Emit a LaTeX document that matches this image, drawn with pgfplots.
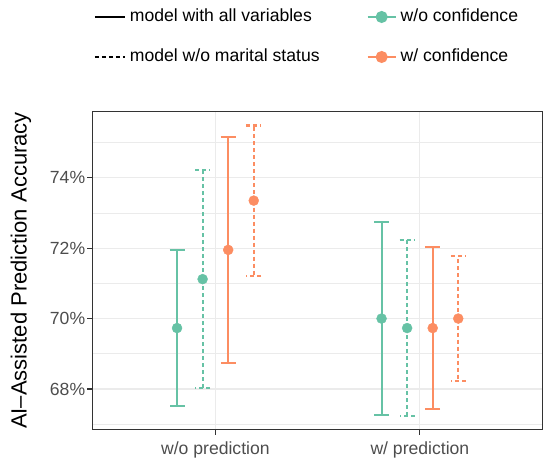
\documentclass[border=0pt]{standalone}
\usepackage{fontspec}
\setmainfont{Liberation Sans}
\usepackage{pgfplots}
\pgfplotsset{compat=1.18}
\definecolor{cgreen}{HTML}{66C2A5}
\definecolor{corange}{HTML}{FC8D62}
\definecolor{gridc}{HTML}{EBEBEB}
\definecolor{framec}{HTML}{333333}
\definecolor{tickc}{HTML}{4D4D4D}
\pgfplotsset{
  mylinelegend/.style={legend image code/.code={\draw[##1] (0bp,0bp) -- (30bp,0bp);}},
  mymarklegend/.style={legend image code/.code={\draw[mark repeat=2,mark phase=2,##1] plot coordinates {(0bp,0bp) (14bp,0bp) (28bp,0bp)};}},
}
\begin{document}
\begin{tikzpicture}[x=1bp,y=1bp]
\path[use as bounding box] (0,0) rectangle (548,462);
\begin{axis}[
  at={(92.7bp,32.7bp)}, anchor=south west,
  scale only axis, width=449.9bp, height=317.6bp,
  xmin=0.4, xmax=2.6, ymin=66.855, ymax=75.875,
  xtick={1,2}, xticklabels={w/o prediction, w/ prediction},
  ytick={68,70,72,74}, yticklabels={68\%,70\%,72\%,74\%},
  minor ytick={67,69,71,73,75},
  grid=both,
  major grid style={gridc, line width=1.1bp},
  minor grid style={gridc, line width=0.6bp},
  axis line style={framec, line width=1.1bp},
  tick style={framec, line width=1.1bp},
  tick align=outside, major tick length=5.5bp, minor tick length=0pt,
  xtick pos=bottom, ytick pos=left,
  ticklabel style={font=\fontsize{17.6bp}{20bp}\selectfont, text=tickc},
  xticklabel style={yshift=-3bp},
  yticklabel style={xshift=1.5bp},
  ylabel={AI–Assisted Prediction Accuracy},
  ylabel style={font=\fontsize{22bp}{26bp}\selectfont, at={(axis description cs:-0.1594,0.5)}, anchor=center},
  legend columns=2,
  legend cell align=left,
  legend style={at={(axis description cs:0.4741,1.2352)}, anchor=center, draw=none, fill=none,
    font=\fontsize{17.6bp}{20bp}\selectfont, inner sep=0pt,
    nodes={inner sep=0pt, text height=12.8bp, text depth=3.7bp},
    row sep=23.5bp,
    /tikz/every odd column/.append style={column sep=4bp},
    /tikz/every even column/.append style={column sep=47bp}},
]
\addlegendimage{mylinelegend, black, line width=2bp}
\addlegendentry{model with all variables}
\addlegendimage{mymarklegend, cgreen, line width=2bp, mark=*, mark size=5bp}
\addlegendentry{w/o confidence}
\addlegendimage{mylinelegend, black, line width=2bp, dash pattern=on 4bp off 3bp}
\addlegendentry{model w/o marital status}
\addlegendimage{mymarklegend, corange, line width=2bp, mark=*, mark size=5bp}
\addlegendentry{w/ confidence}

% w/o confidence, model with all variables
\addplot[only marks, mark=*, mark size=5bp, color=cgreen, forget plot,
  error bars/.cd, y dir=both, y explicit,
  error bar style={line width=2bp, cgreen},
  error mark options={rotate=90, mark size=7.5bp, line width=2bp, cgreen}]
coordinates {(0.8125,69.73) +- (0,2.22) (1.8125,70.00) +- (0,2.74)};
% w/o confidence, model w/o marital status
\addplot[only marks, mark=*, mark size=5bp, color=cgreen, forget plot,
  error bars/.cd, y dir=both, y explicit,
  error bar style={line width=2.2bp, cgreen, dash pattern=on 4bp off 3bp},
  error mark options={rotate=90, mark size=7.5bp, line width=2.2bp, cgreen, dash pattern=on 4bp off 3bp}]
coordinates {(0.9375,71.12) +- (0,3.10) (1.9375,69.73) +- (0,2.49)};
% w/ confidence, model with all variables
\addplot[only marks, mark=*, mark size=5bp, color=corange, forget plot,
  error bars/.cd, y dir=both, y explicit,
  error bar style={line width=2bp, corange},
  error mark options={rotate=90, mark size=7.5bp, line width=2bp, corange}]
coordinates {(1.0625,71.95) +- (0,3.20) (2.0625,69.73) +- (0,2.30)};
% w/ confidence, model w/o marital status
\addplot[only marks, mark=*, mark size=5bp, color=corange, forget plot,
  error bars/.cd, y dir=both, y explicit,
  error bar style={line width=2.2bp, corange, dash pattern=on 4bp off 3bp},
  error mark options={rotate=90, mark size=7.5bp, line width=2.2bp, corange, dash pattern=on 4bp off 3bp}]
coordinates {(1.1875,73.35) +- (0,2.13) (2.1875,70.00) +- (0,1.78)};
\end{axis}
\end{tikzpicture}
\end{document}
